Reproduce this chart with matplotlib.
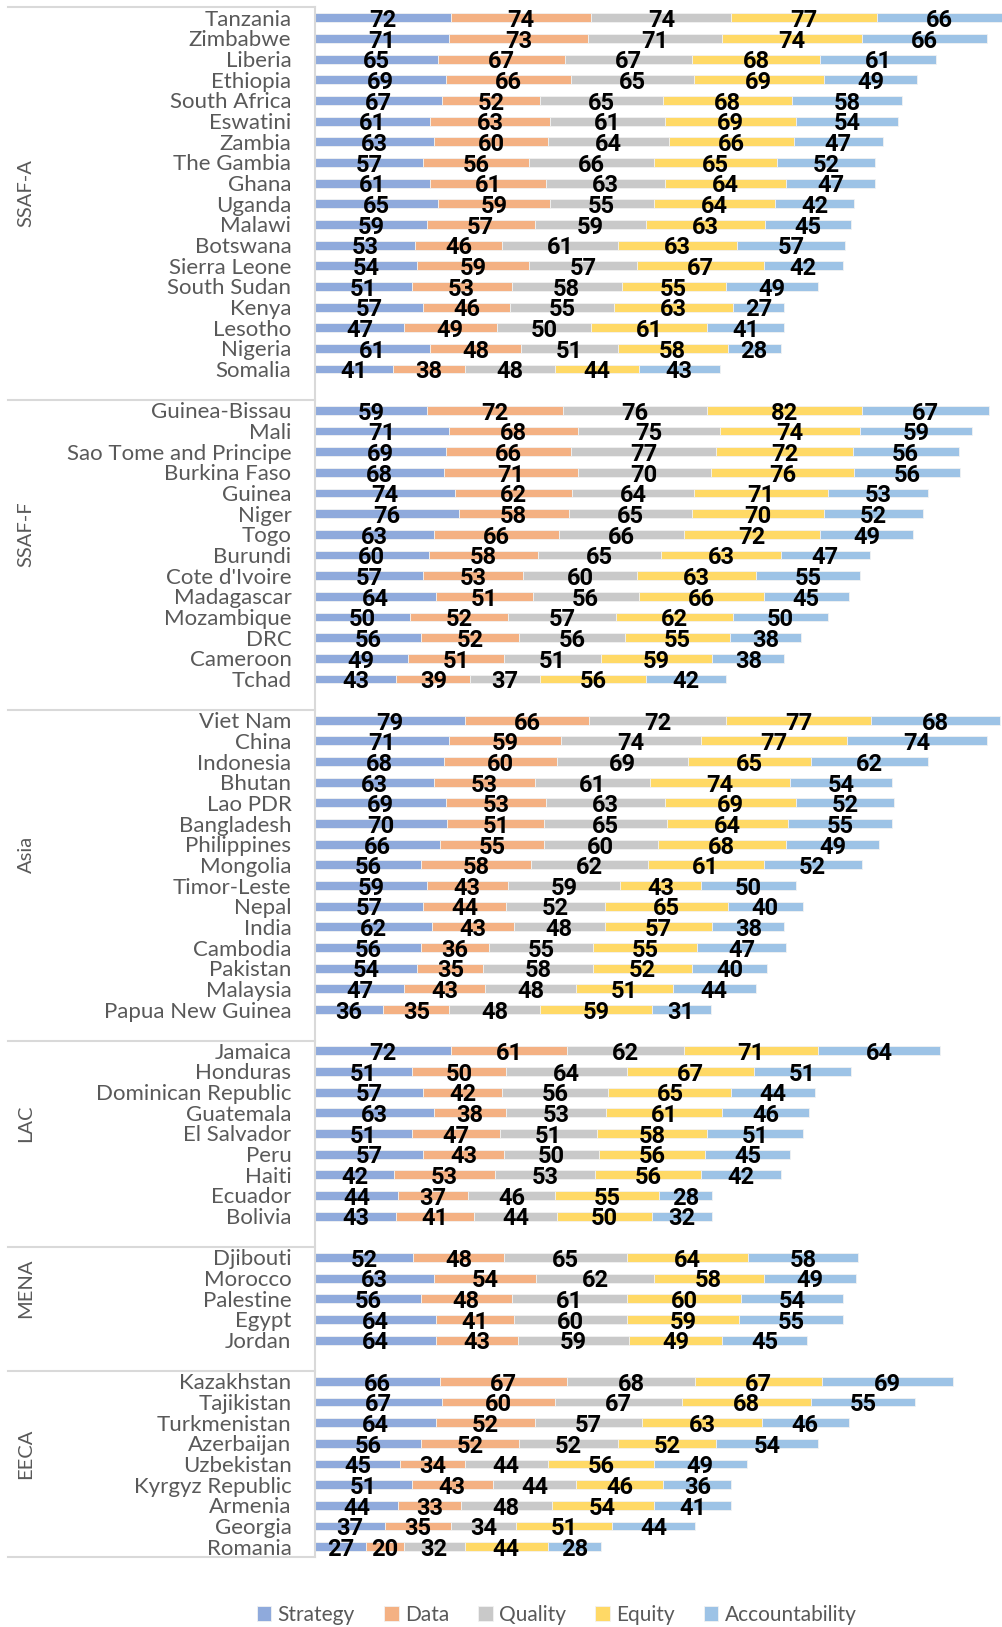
import numpy as np
import matplotlib.pyplot as plt
import matplotlib.transforms as mtransforms

plt.rcParams['font.family'] = ['Lato', 'DejaVu Sans']

# regions and how many countries each holds (top to bottom)
groups = ["SSAF-A", "SSAF-F", "Asia", "LAC", "MENA", "EECA"]
group_sizes = [18, 14, 15, 9, 5, 9]

countries = [
    "Tanzania", "Zimbabwe", "Liberia", "Ethiopia", "South Africa", "Eswatini", "Zambia",
    "The Gambia", "Ghana", "Uganda", "Malawi", "Botswana", "Sierra Leone", "South Sudan",
    "Kenya", "Lesotho", "Nigeria", "Somalia",
    "Guinea-Bissau", "Mali", "Sao Tome and Principe", "Burkina Faso", "Guinea", "Niger",
    "Togo", "Burundi", "Cote d'Ivoire", "Madagascar", "Mozambique", "DRC", "Cameroon", "Tchad",
    "Viet Nam", "China", "Indonesia", "Bhutan", "Lao PDR", "Bangladesh", "Philippines",
    "Mongolia", "Timor-Leste", "Nepal", "India", "Cambodia", "Pakistan", "Malaysia",
    "Papua New Guinea",
    "Jamaica", "Honduras", "Dominican Republic", "Guatemala", "El Salvador", "Peru", "Haiti",
    "Ecuador", "Bolivia",
    "Djibouti", "Morocco", "Palestine", "Egypt", "Jordan",
    "Kazakhstan", "Tajikistan", "Turkmenistan", "Azerbaijan", "Uzbekistan", "Kyrgyz Republic",
    "Armenia", "Georgia", "Romania",
]

strategy = [72, 71, 65, 69, 67, 61, 63, 57, 61, 65, 59, 53, 54, 51, 57, 47, 61, 41,
            59, 71, 69, 68, 74, 76, 63, 60, 57, 64, 50, 56, 49, 43,
            79, 71, 68, 63, 69, 70, 66, 56, 59, 57, 62, 56, 54, 47, 36,
            72, 51, 57, 63, 51, 57, 42, 44, 43,
            52, 63, 56, 64, 64,
            66, 67, 64, 56, 45, 51, 44, 37, 27]
data_ = [74, 73, 67, 66, 52, 63, 60, 56, 61, 59, 57, 46, 59, 53, 46, 49, 48, 38,
         72, 68, 66, 71, 62, 58, 66, 58, 53, 51, 52, 52, 51, 39,
         66, 59, 60, 53, 53, 51, 55, 58, 43, 44, 43, 36, 35, 43, 35,
         61, 50, 42, 38, 47, 43, 53, 37, 41,
         48, 54, 48, 41, 43,
         67, 60, 52, 52, 34, 43, 33, 35, 20]
quality = [74, 71, 67, 65, 65, 61, 64, 66, 63, 55, 59, 61, 57, 58, 55, 50, 51, 48,
           76, 75, 77, 70, 64, 65, 66, 65, 60, 56, 57, 56, 51, 37,
           72, 74, 69, 61, 63, 65, 60, 62, 59, 52, 48, 55, 58, 48, 48,
           62, 64, 56, 53, 51, 50, 53, 46, 44,
           65, 62, 61, 60, 59,
           68, 67, 57, 52, 44, 44, 48, 34, 32]
equity = [77, 74, 68, 69, 68, 69, 66, 65, 64, 64, 63, 63, 67, 55, 63, 61, 58, 44,
          82, 74, 72, 76, 71, 70, 72, 63, 63, 66, 62, 55, 59, 56,
          77, 77, 65, 74, 69, 64, 68, 61, 43, 65, 57, 55, 52, 51, 59,
          71, 67, 65, 61, 58, 56, 56, 55, 50,
          64, 58, 60, 59, 49,
          67, 68, 63, 52, 56, 46, 54, 51, 44]
accountability = [66, 66, 61, 49, 58, 54, 47, 52, 47, 42, 45, 57, 42, 49, 27, 41, 28, 43,
                  67, 59, 56, 56, 53, 52, 49, 47, 55, 45, 50, 38, 38, 42,
                  68, 74, 62, 54, 52, 55, 49, 52, 50, 40, 38, 47, 40, 44, 31,
                  64, 51, 44, 46, 51, 45, 42, 28, 32,
                  58, 49, 54, 55, 45,
                  69, 55, 46, 54, 49, 36, 41, 44, 28]

series = ["Strategy", "Data", "Quality", "Equity", "Accountability"]
colors = ["#8FAADC", "#F4B183", "#C9C9C9", "#FFD966", "#9DC3E6"]

# slot positions: one empty slot on top of every region except the first
ypos = []
starts = []
slot = 0
for gi, n in enumerate(group_sizes):
    if gi > 0:
        slot += 1
    starts.append(slot)
    for k in range(n):
        ypos.append(slot)
        slot += 1
ypos = np.array(ypos)
n_slots = slot

fig = plt.figure(figsize=(10.03, 16.27), dpi=100)
ax = fig.add_axes([315/1003, 1 - 1557/1627, 688/1003, (1557 - 7.5)/1627])

left = np.zeros(len(countries))
for name, vals, col in zip(series, [strategy, data_, quality, equity, accountability], colors):
    vals = np.array(vals)
    bars = ax.barh(ypos, vals, left=left, height=0.43, color=col, label=name,
                   edgecolor='#F2F2F2', linewidth=0.6)
    labels = ax.bar_label(bars, label_type='center', fontsize=17, fontweight='bold',
                          family=['Roboto', 'DejaVu Sans'], color='black')
    for t in labels:
        t.xyann = (0, -2)
    left += vals

ax.set_xlim(0, 363.5)
ax.set_ylim(n_slots - 0.5, -0.5)
ax.set_xticks([])
ax.set_yticks(ypos)
ax.set_yticklabels(countries, fontsize=16, color='#595959')
ax.tick_params(axis='y', length=0, pad=17)
for s in ['top', 'right', 'bottom']:
    ax.spines[s].set_visible(False)
ax.spines['left'].set_color('#D9D9D9')
ax.spines['left'].set_linewidth(1.5)

# region separators and names to the left of the axis
trans = mtransforms.blended_transform_factory(ax.transAxes, ax.transData)
x0 = (8 - 315) / 688
bounds = [-0.5] + [s - 0.5 for s in starts[1:]] + [n_slots - 0.5]
for b in bounds:
    ax.plot([x0, 0], [b, b], transform=trans, color='#D9D9D9', lw=1.5, clip_on=False)
for gi, g in enumerate(groups):
    first = starts[gi]
    last = starts[gi] + group_sizes[gi] - 1
    if gi > 0:
        first -= 1
    ax.text((26 - 315) / 688, (first + last) / 2, g, transform=trans, rotation=90,
            ha='center', va='center', fontsize=14.5, color='#595959')

leg = ax.legend(loc='center', bbox_to_anchor=(0.555, 0.0075), bbox_transform=fig.transFigure,
                ncol=5, frameon=False, fontsize=15, handlelength=0.7, handleheight=0.7,
                handletextpad=0.3, columnspacing=1.4)
for t in leg.get_texts():
    t.set_color('#595959')

fig.savefig('out.png', dpi=100)
